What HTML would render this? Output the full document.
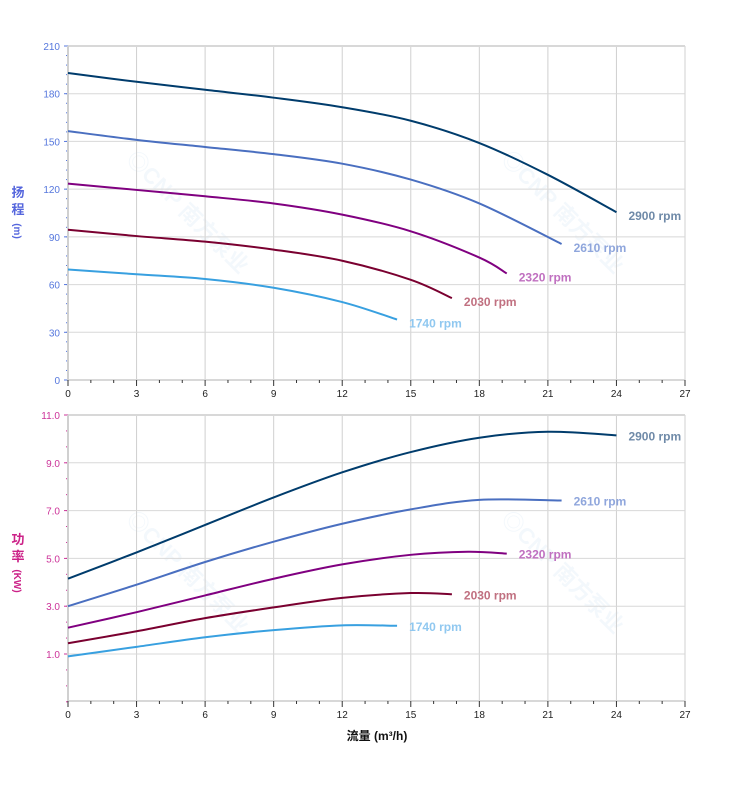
<!DOCTYPE html>
<html><head><meta charset="utf-8"><style>
body{margin:0;background:#fff;width:752px;height:797px;overflow:hidden}
svg{display:block;font-family:"Liberation Sans","Noto Sans CJK SC",sans-serif}
</style></head><body>
<svg id="s" width="752" height="797" xmlns="http://www.w3.org/2000/svg"></svg>
<script>
const s=document.getElementById('s');let h='';
const X=q=>68+q*617/27;
const YT=v=>380-v*334/210;
const YB=v=>415+(11-v)*23.9;
[[125,160],[500,160],[125,520],[500,520]].forEach(([x,y])=>{h+=`<text x="${x}" y="${y}" transform="rotate(45 ${x} ${y})" font-size="22" font-weight="bold" fill="#4a8fd0" opacity="0.06">◎CNP 南方泵业</text>`;});
function axes(top,bot,Y,vals,fmt,col,minStep,vmin,vmax){
  for(let q=0;q<=27;q+=3){h+=`<line x1="${X(q)}" y1="${top}" x2="${X(q)}" y2="${bot}" stroke="#d0d0d0"/>`;}
  vals.forEach(v=>{h+=`<line x1="68" y1="${Y(v)}" x2="685" y2="${Y(v)}" stroke="#d8d8d8"/>`;
    h+=`<line x1="64" y1="${Y(v)}" x2="68" y2="${Y(v)}" stroke="${col}"/>`;
    h+=`<text x="60" y="${Y(v)+4}" font-size="10" fill="${col}" text-anchor="end">${fmt(v)}</text>`;});
  for(let v=vmin;v<=vmax+1e-6;v+=minStep){h+=`<line x1="66" y1="${Y(v)}" x2="68" y2="${Y(v)}" stroke="${col}"/>`;}
  h+=`<line x1="68" y1="${top}" x2="685" y2="${top}" stroke="#d8d8d8" stroke-width="2"/>`;
  h+=`<line x1="68" y1="${bot}" x2="685" y2="${bot}" stroke="#d8d8d8" stroke-width="2"/>`;
  h+=`<line x1="68" y1="${top}" x2="68" y2="${bot}" stroke="#d0d0d0" stroke-width="2"/>`;
  for(let q=0;q<=27;q++){h+=`<line x1="${X(q)}" y1="${bot}" x2="${X(q)}" y2="${bot+(q%3?3:6)}" stroke="#333"/>`;}
  for(let q=0;q<=27;q+=3){h+=`<text x="${X(q)}" y="${bot+17}" font-size="10" fill="#222" text-anchor="middle">${q}</text>`;}
}
axes(46,380,YT,[0,30,60,90,120,150,180,210],v=>v,'#5577dd',6,0,210);
axes(415,701,YB,[11,9,7,5,3,1],v=>v.toFixed(1),'#cc3399',0.6667,-1,11);
function curve(pts,Y,col){
  const P=pts.map(p=>[X(p[0]),Y(p[1])]);let d=`M${P[0][0]},${P[0][1]}`;
  for(let i=0;i<P.length-1;i++){const p0=P[i-1]||P[i],p1=P[i],p2=P[i+1],p3=P[i+2]||P[i+1];
    d+=` C${p1[0]+(p2[0]-p0[0])/6},${p1[1]+(p2[1]-p0[1])/6} ${p2[0]-(p3[0]-p1[0])/6},${p2[1]-(p3[1]-p1[1])/6} ${p2[0]},${p2[1]}`;}
  h+=`<path d="${d}" fill="none" stroke="${col}" stroke-width="2"/>`;
}
const C=['#003c6c','#4a6fc0','#800080','#7a0030','#38a0e0'];
const L=['#6f8aa8','#8fa6dc','#c070c0','#c07080','#90c8f0'];
const head=[
[[0,193],[3,187.5],[6,182.5],[9,177.5],[12,171.5],[15,163],[18,149],[21,129],[24,105.5]],
[[0,156.5],[3,151],[6,146.5],[9,142],[12,136],[15,126],[18,111],[21.6,85.5]],
[[0,123.5],[3,119.5],[6,115.5],[9,111],[12,104],[15,93.5],[18,77],[19.2,67]],
[[0,94.5],[3,90.5],[6,87],[9,82],[12,75],[15,63],[16.8,51.5]],
[[0,69.5],[3,66.5],[6,63.5],[9,58],[12,49],[14.4,38]]];
const pw=[
[[0,4.15],[3,5.25],[6,6.4],[9,7.55],[12,8.6],[15,9.45],[18,10.05],[21,10.3],[24,10.15]],
[[0,3.0],[3,3.9],[6,4.85],[9,5.7],[12,6.45],[15,7.05],[18,7.45],[21.6,7.42]],
[[0,2.1],[3,2.75],[6,3.45],[9,4.15],[12,4.75],[15,5.15],[17.5,5.28],[19.2,5.2]],
[[0,1.45],[3,1.95],[6,2.5],[9,2.95],[12,3.35],[15,3.55],[16.8,3.5]],
[[0,0.9],[3,1.3],[6,1.7],[9,2.0],[12,2.2],[14.4,2.18]]];
const rpm=['2900','2610','2320','2030','1740'];
head.forEach((c,i)=>{curve(c,YT,C[i]);const e=c[c.length-1];h+=`<text x="${X(e[0])+12}" y="${YT(e[1])+8}" font-size="12" font-weight="bold" fill="${L[i]}">${rpm[i]} rpm</text>`;});
pw.forEach((c,i)=>{curve(c,YB,C[i]);const e=c[c.length-1];h+=`<text x="${X(e[0])+12}" y="${YB(e[1])+5}" font-size="12" font-weight="bold" fill="${L[i]}">${rpm[i]} rpm</text>`;});
h+=`<text x="18" y="197" font-size="13" font-weight="bold" fill="#5566dd" text-anchor="middle">扬</text><text x="18" y="214" font-size="13" font-weight="bold" fill="#5566dd" text-anchor="middle">程</text><text x="18" y="235" font-size="10" font-weight="bold" fill="#5566dd" text-anchor="middle" transform="rotate(90 18 231)">(m)</text>`;
h+=`<text x="18" y="544" font-size="13" font-weight="bold" fill="#cc2288" text-anchor="middle">功</text><text x="18" y="561" font-size="13" font-weight="bold" fill="#cc2288" text-anchor="middle">率</text><text x="18" y="585" font-size="10" font-weight="bold" fill="#cc2288" text-anchor="middle" transform="rotate(90 18 581)">(KW)</text>`;
h+=`<text x="377" y="740" font-size="12" font-weight="bold" fill="#111" text-anchor="middle">流量 (m³/h)</text>`;
s.innerHTML=h;
</script>
</body></html>
